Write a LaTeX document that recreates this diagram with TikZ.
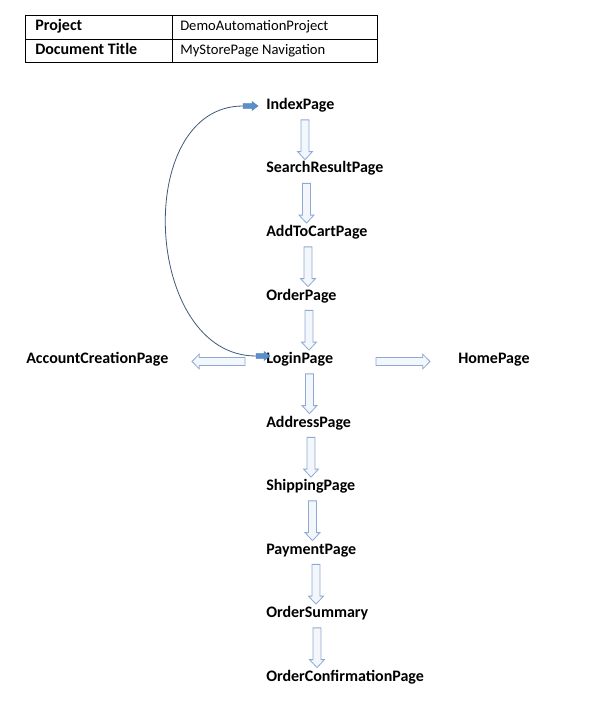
\documentclass[tikz,border=0pt,11pt]{standalone}
\usepackage{fontspec}
\setmainfont{Carlito}
\usetikzlibrary{calc}
\definecolor{arrowline}{HTML}{8EAAD2}
\definecolor{arrowfill}{HTML}{F3F7FC}
\definecolor{curveline}{HTML}{3F5877}
\definecolor{headfill}{HTML}{5B8FC9}
\newcommand{\labelfont}{\fontsize{12}{14}\selectfont\bfseries}
\tikzset{
  page/.style={font=\labelfont, inner sep=0pt, anchor=west, text height=8.7pt, text depth=2.7pt},
  cell/.style={inner sep=0pt, anchor=west, text height=8pt, text depth=2.5pt},
  hollow/.style={draw=arrowline, fill=arrowfill, line width=0.6pt, line join=miter},
  solidhead/.style={draw=headfill!85!black, fill=headfill, line width=0.3pt},
}
% style, from, to, half shaft, half head, head length
\newcommand{\blockarrow}[6]{%
  \coordinate (h) at ($(#3)!#6!(#2)$);
  \draw[#1] ($(#2)!#4!90:(#3)$) -- ($(h)!#4!90:(#3)$) -- ($(h)!#5!90:(#3)$) -- (#3)
     -- ($(h)!#5!-90:(#3)$) -- ($(h)!#4!-90:(#3)$) -- ($(#2)!#4!-90:(#3)$) -- cycle;
}
\begin{document}
\begin{tikzpicture}[x=0.75pt,y=-0.75pt]
   \useasboundingbox (0,0) rectangle (616,709);

   % header table
   \draw[line width=0.6pt] (25,15) rectangle (377,62);
   \draw[line width=0.6pt] (25,39) -- (377,39);
   \draw[line width=0.6pt] (172,15) -- (172,62);
   \node[page] (proj) at (35,27) {Project};
   \node[cell] (projval) at (180,27) {DemoAutomationProject};
   \node[page] (doc) at (35,51) {Document Title};
   \node[cell] (docval) at (180,51) {MyStorePage Navigation};

   % pages
   \node[page] (idx) at (266,105.5) {IndexPage};
   \node[page] (srp) at (266,169) {SearchResultPage};
   \node[page] (atc) at (266,232.5) {AddToCartPage};
   \node[page] (ord) at (266,296) {OrderPage};
   \node[page] (log) at (266,359.5) {LoginPage};
   \node[page] (adr) at (266,423) {AddressPage};
   \node[page] (shp) at (266,486.5) {ShippingPage};
   \node[page] (pay) at (266,550) {PaymentPage};
   \node[page] (osm) at (266,613.5) {OrderSummary};
   \node[page] (ocp) at (266,677) {OrderConfirmationPage};
   \node[page] (acc) at (26,359.5) {AccountCreationPage};
   \node[page] (home) at (458,359.5) {HomePage};

   % down arrows
   \foreach \a/\b/\x in {idx/srp/305,srp/atc/306.5,atc/ord/308,ord/log/309,
       log/adr/309.5,adr/shp/311,shp/pay/312.5,pay/osm/316,osm/ocp/317}{
     \path (\x,0 |- \a.south) ++(0,6.5) coordinate (s);
     \path (\x,0 |- \b.north) ++(0,-1.5) coordinate (e);
     \blockarrow{hollow}{s}{e}{3pt}{5.6pt}{6pt}
   }

   % side arrows
   \path (log.west) ++(-21,2) coordinate (ls) ++(-53,0) coordinate (le);
   \blockarrow{hollow}{ls}{le}{3pt}{5.6pt}{5.5pt}
   \path (home.west) ++(-28,2) coordinate (re) ++(-54,0) coordinate (rs);
   \blockarrow{hollow}{rs}{re}{3pt}{5.6pt}{5.5pt}

   % loop back from login to index
   \path (idx.west) ++(-8,0.5) coordinate (itip) ++(-15,0) coordinate (itail);
   \path (log.west) ++(4,-3.5) coordinate (ltip) ++(-14,0) coordinate (ltail);
   \draw[curveline, line width=0.6pt] (ltail) .. controls (143,356) and (132,106) .. (itail);
   \blockarrow{solidhead}{itail}{itip}{1.9pt}{3.4pt}{4.5pt}
   \blockarrow{solidhead}{ltail}{ltip}{1.9pt}{3.4pt}{4.5pt}
\end{tikzpicture}
\end{document}
